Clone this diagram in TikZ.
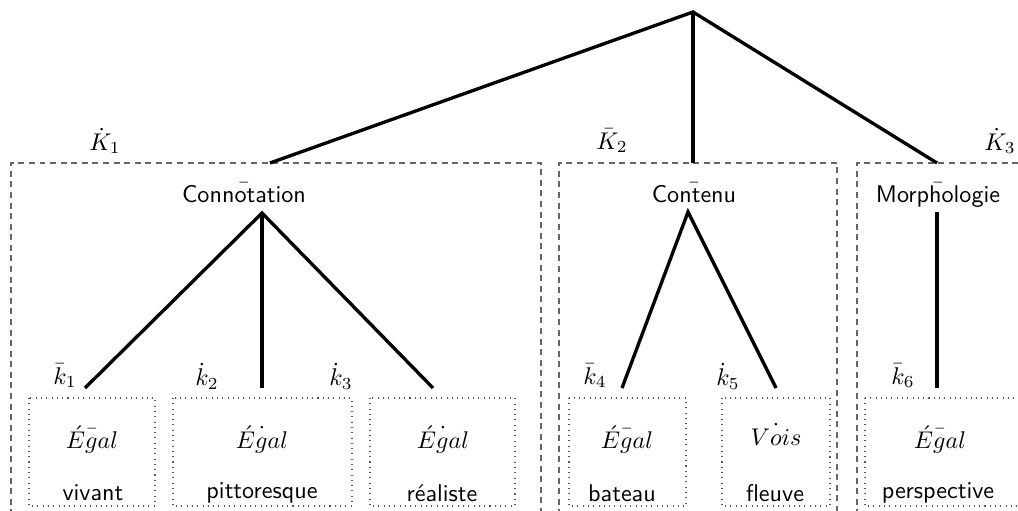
\documentclass[tikz,border=0pt]{standalone}
\usepackage{fix-cm}
\newcommand\ctracc[3]{\ooalign{#3\cr\hidewidth$#1{\vphantom{#2}}$\hidewidth\cr}}
\begin{document}
\begin{tikzpicture}[x=0.4348pt,y=-0.4348pt,
  tree/.style={line width=1.45pt},
  kbox/.style={draw=black!60,dash pattern=on 2.6pt off 2pt,line width=0.45pt},
  leafbox/.style={draw=black!65,dash pattern=on 0.45pt off 1.85pt,line width=0.45pt},
  txt/.style={font=\fontsize{10.5}{12.5}\selectfont\sffamily,inner sep=0pt},
  lab/.style={font=\fontsize{10.5}{12.5}\selectfont,inner sep=0pt}]
\useasboundingbox (0,0) rectangle (1018,511);
% dashed group boxes
\draw[kbox] (11,600) -- (11,163) -- (541,163) -- (541,600);
\draw[kbox] (559,600) -- (559,163) -- (837,163) -- (837,600);
\draw[kbox] (857,600) -- (857,163) -- (1030,163);
% dotted leaf boxes
\draw[leafbox] (29,398) rectangle (155,506);
\draw[leafbox] (173,398) rectangle (352,506);
\draw[leafbox] (370,398) rectangle (515,506);
\draw[leafbox] (569,398) rectangle (686,506);
\draw[leafbox] (722,398) rectangle (830,506);
\draw[leafbox] (865,398) -- (1030,398);
\draw[leafbox] (865,398) -- (865,506) -- (1030,506);
% group labels
\node[lab] (K1) at (105,141) {$\dot{K}_1$};
\node[lab] (K2) at (612,141) {$\bar{K}_2$};
\node[lab] (K3) at (1000,141) {$\dot{K}_3$};
% tree
\coordinate (root) at (693,12);
\coordinate (t1) at (270,163);
\coordinate (t2) at (693,163);
\coordinate (t3) at (937,163);
\draw[tree] (t1) -- (root) -- (t3);
\draw[tree] (root) -- (t2);
\node[txt] (conn) at (244,194) {\ctracc{\bar}{\mathrm{l}}{Connotation}};
\node[txt] (cont) at (694,194) {\ctracc{\bar}{\mathrm{l}}{Contenu}};
\node[txt] (morph) at (938,194) {\ctracc{\bar}{\mathrm{l}}{Morphologie}};
\coordinate (c1) at (262,213);
\coordinate (c2) at (688,212);
\coordinate (c3) at (937,212);
\coordinate (l1) at (85,388);
\coordinate (l2) at (262,388);
\coordinate (l3) at (433,388);
\coordinate (l4) at (622,388);
\coordinate (l5) at (776,388);
\coordinate (l6) at (937,388);
\draw[tree] (l1) -- (c1) -- (l3);
\draw[tree] (c1) -- (l2);
\draw[tree] (l4) -- (c2) -- (l5);
\draw[tree] (c3) -- (l6);
% leaf labels
\node[lab] (k1) at (65,376) {$\bar{k}_1$};
\node[lab] (k2) at (207,376) {$\dot{k}_2$};
\node[lab] (k3) at (341,376) {$\dot{k}_3$};
\node[lab] (k4) at (595,376) {$\bar{k}_4$};
\node[lab] (k5) at (728,376) {$\dot{k}_5$};
\node[lab] (k6) at (903,376) {$\bar{k}_6$};
% leaf contents
\node[lab] (e1) at (92,437) {\ctracc{\bar}{E}{$\acute{E}gal$}};
\node[lab] (e2) at (262,437) {\ctracc{\dot}{E}{$\acute{E}gal$}};
\node[lab] (e3) at (443,437) {\ctracc{\dot}{E}{$\acute{E}gal$}};
\node[lab] (e4) at (627,437) {\ctracc{\bar}{E}{$\acute{E}gal$}};
\node[lab] (e5) at (776,437) {\ctracc{\dot}{E}{$Vois$}};
\node[lab] (e6) at (940,437) {\ctracc{\bar}{E}{$\acute{E}gal$}};
\node[txt] (w1) at (93,493) {vivant};
\node[txt] (w2) at (262,493) {pittoresque};
\node[txt] (w3) at (442,493) {réaliste};
\node[txt] (w4) at (622,493) {bateau};
\node[txt] (w5) at (775,493) {fleuve};
\node[txt] (w6) at (938,493) {perspective};
\end{tikzpicture}
\end{document}
